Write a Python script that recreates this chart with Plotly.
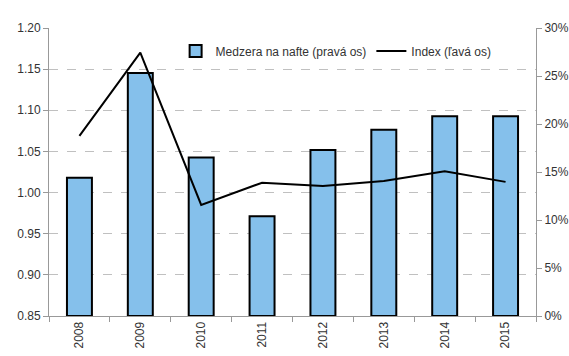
import plotly.graph_objects as go

years = ["2008", "2009", "2010", "2011", "2012", "2013", "2014", "2015"]
gap_pct = [14.4, 25.3, 16.5, 10.4, 17.3, 19.4, 20.8, 20.8]
index_vals = [1.069, 1.170, 0.985, 1.012, 1.008, 1.014, 1.026, 1.013]
left_ticks = [0.85, 0.90, 0.95, 1.00, 1.05, 1.10, 1.15, 1.20]
right_ticks = [0, 5, 10, 15, 20, 25, 30]
right_labels = [f"{v}%" for v in right_ticks]

FONT = "Liberation Sans, Arial"

fig = go.Figure()
fig.add_trace(go.Bar(
    x=years, y=gap_pct, name="Medzera na nafte (pravá os)", yaxis="y",
    marker=dict(color="#85C0EB", line=dict(color="black", width=2)),
))
fig.add_trace(go.Scatter(
    x=years, y=index_vals, name="Index (ľavá os)", yaxis="y2",
    mode="lines", line=dict(color="black", width=2),
))

fig.update_layout(
    width=569, height=356,
    margin=dict(l=49, r=33, t=28, b=40),
    plot_bgcolor="white", paper_bgcolor="white",
    font=dict(family=FONT, size=12, color="#333"),
    bargap=0.59,
    showlegend=True,
    legend=dict(orientation="h", x=0.26, y=0.92, xanchor="left", yanchor="middle",
                bgcolor="rgba(0,0,0,0)", font=dict(size=12, color="#333"),
                traceorder="normal", itemwidth=30),
    xaxis=dict(
        type="category", tickangle=-90, showgrid=False, automargin=False,
        showline=True, linecolor="#999", linewidth=1,
        ticks="outside", tickson="boundaries", ticklen=5, tickcolor="#999",
        range=[-0.5, 7.5],
    ),
    yaxis=dict(
        range=[0, 30], tickvals=right_ticks, ticktext=right_labels, side="right",
        showgrid=False, showline=True, linecolor="#999", linewidth=1, automargin=False,
        ticks="outside", ticklen=5, tickcolor="#999", zeroline=False,
    ),
    yaxis2=dict(
        range=[0.85, 1.20], tickvals=left_ticks, tickformat=".2f",
        overlaying="y", side="left", automargin=False,
        showgrid=True, gridcolor="#c0c0c0", griddash="dash", gridwidth=1,
        showline=True, linecolor="#999", linewidth=1,
        ticks="outside", ticklen=5, tickcolor="#999", zeroline=False,
    ),
)

fig.write_html("out.html")
